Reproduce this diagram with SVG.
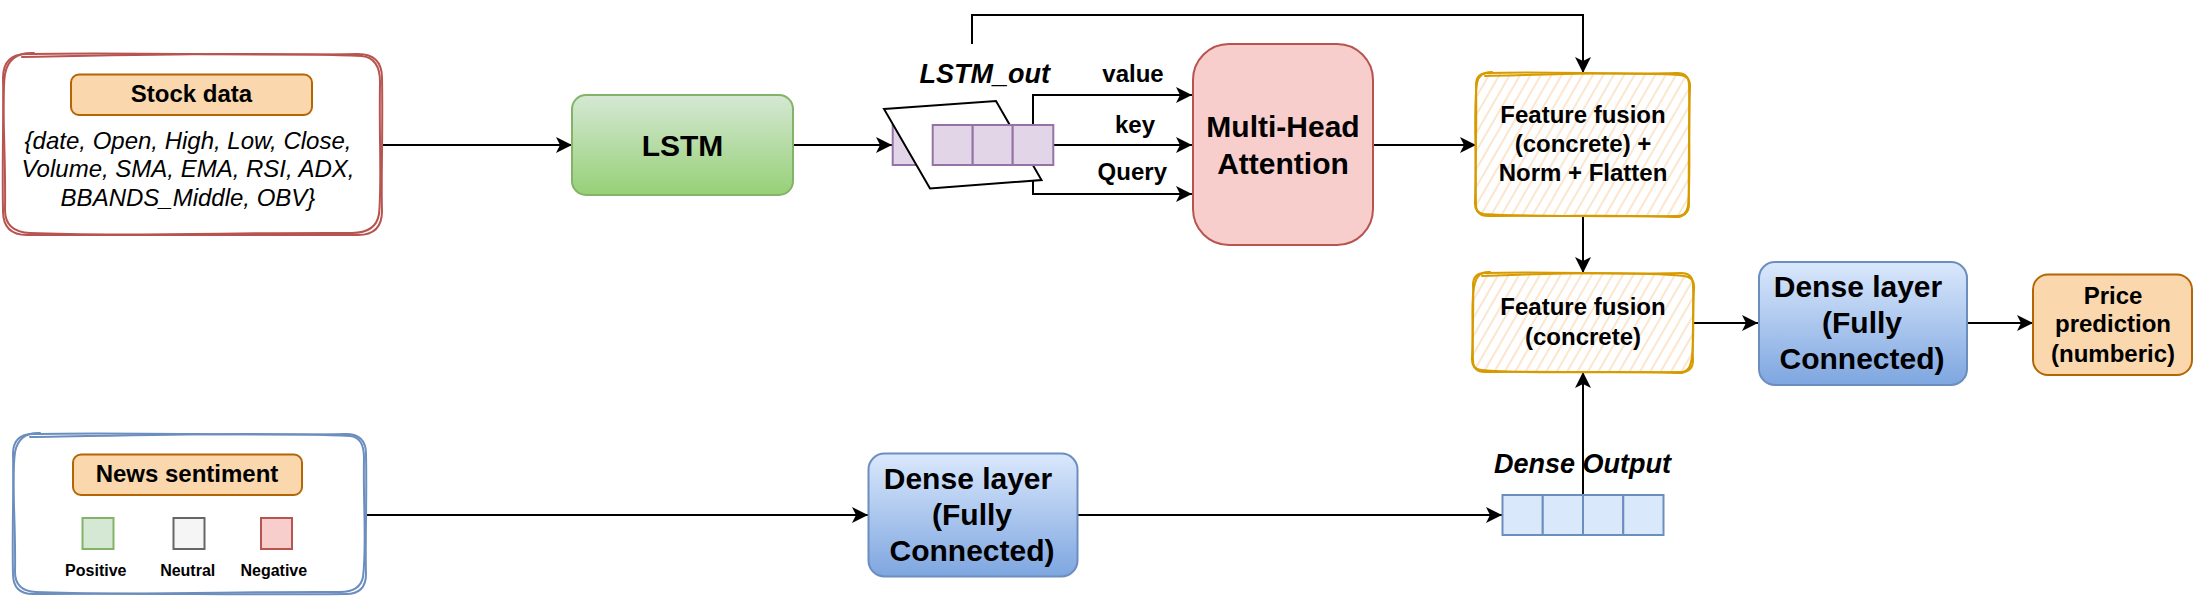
<svg xmlns="http://www.w3.org/2000/svg" width="2194" height="596" viewBox="0 0 2194 596">
<defs>
<style>
text{font-family:"Liberation Sans",Arial,Helvetica,sans-serif;fill:#000;text-anchor:middle}
.b24{font-size:24px;font-weight:bold}
.b30{font-size:30px;font-weight:bold}
.b16{font-size:16px;font-weight:bold}
.i24{font-size:24px;font-style:italic}
.bi27{font-size:27px;font-weight:bold;font-style:italic}
.conn{fill:none;stroke:#000;stroke-width:2;marker-end:url(#arr)}
.line{fill:none;stroke:#000;stroke-width:2}
.lbl{fill:#fad7ac;stroke:#b46504;stroke-width:2}
.sk{fill:none;stroke-width:2;stroke-linejoin:round;stroke-linecap:round}
.purple{fill:#e1d5e7;stroke:#9673a6;stroke-width:2}
.bluecell{fill:#dae8fc;stroke:#6c8ebf;stroke-width:2}
</style>
<marker id="arr" markerUnits="userSpaceOnUse" viewBox="0 0 16 16" refX="16" refY="8" markerWidth="16" markerHeight="16" orient="auto">
<path d="M16,8 L0,0 L4,8 L0,16 Z" fill="#000"/>
</marker>
<linearGradient id="gGreen" x1="0" y1="0" x2="0" y2="1">
<stop offset="0" stop-color="#d5e8d4"/><stop offset="1" stop-color="#97d077"/>
</linearGradient>
<linearGradient id="gBlue" x1="0" y1="0" x2="0" y2="1">
<stop offset="0" stop-color="#dae8fc"/><stop offset="1" stop-color="#7ea6e0"/>
</linearGradient>
<pattern id="hatch" patternUnits="userSpaceOnUse" width="9" height="9" patternTransform="rotate(30)">
<rect width="9" height="9" fill="#ffffff"/>
<line x1="4" y1="0" x2="4" y2="9" stroke="#fad9b5" stroke-width="1.3"/>
</pattern>
</defs>
<rect width="2194" height="596" fill="#ffffff"/>

<g id="connectors">
<path class="conn" d="M382,145 H572"/>
<path class="conn" d="M793,145 H892"/>
<path class="conn" d="M972,44 V15 H1583 V73"/>
<path class="conn" d="M1033,125 V95 H1192"/>
<path class="conn" d="M1053,145 H1192"/>
<path class="conn" d="M1033,165 V194 H1192"/>
<path class="conn" d="M1373,145 H1476"/>
<path class="conn" d="M1583,216 V273"/>
<path class="conn" d="M1693,323 H1758"/>
<path class="conn" d="M1967,323 H2033"/>
<path class="conn" d="M366,515 H868"/>
<path class="conn" d="M1078,515 H1502"/>
<path class="conn" d="M1583,495 V372"/>
</g>

<g id="stock-data">
<path d="M27,54 C130,52 260,56 358,54 Q382,54 382,78 C383,130 381,180 382,211 Q382,235 358,235 C260,236 130,234 27,235 Q3,235 3,211 C2,160 4,110 3,78 Q3,54 27,54 Z" fill="#ffffff" stroke="none"/>
<path class="sk" stroke="#b85450" d="M27,54 C130,52 260,56 358,54 Q382,54 382,78 C383,130 381,180 382,211 Q382,235 358,235 C260,236 130,234 27,235 Q3,235 3,211 C2,160 4,110 3,78 Q3,54 27,54 Z"/>
<path class="sk" stroke="#b85450" d="M22,57 C140,55 270,52 362,56 Q380,58 380,82 C379,140 382,185 379,214 Q376,233 352,233 C250,232 120,237 30,233 Q5,232 5,210 C6,150 1,100 5,74 Q9,52 34,53"/>
<rect class="lbl" x="71" y="74.5" width="241" height="40.5" rx="8"/>
<text class="b24" x="191.5" y="101.5">Stock data</text>
<text class="i24" x="188" y="149">{date, Open, High, Low, Close,</text>
<text class="i24" x="188" y="177">Volume, SMA, EMA, RSI, ADX,</text>
<text class="i24" x="188" y="205.5">BBANDS_Middle, OBV}</text>
</g>

<g id="lstm">
<rect x="572" y="95" width="221" height="100" rx="14" fill="url(#gGreen)" stroke="#82b366" stroke-width="2"/>
<text class="b30" x="682.5" y="156">LSTM</text>
</g>

<g id="lstm-out">
<rect class="purple" x="892.7" y="125" width="40" height="40"/>
<polygon points="884,109 996,101 1041.5,180 930,188.5" fill="#ffffff" stroke="#000" stroke-width="2"/>
<rect class="purple" x="932.7" y="125" width="40" height="40"/>
<rect class="purple" x="972.7" y="125" width="40" height="40"/>
<rect class="purple" x="1012.7" y="125" width="40.6" height="40"/>
<text class="bi27" x="984.7" y="83.3">LSTM_out</text>
</g>

<g id="edge-labels">
<text class="b24" x="1133" y="81.7">value</text>
<text class="b24" x="1135" y="132.7">key</text>
<text class="b24" x="1132.3" y="180">Query</text>
</g>

<g id="multi-head-attention">
<rect x="1193" y="44" width="180" height="201" rx="36" fill="#f8cecc" stroke="#b85450" stroke-width="2"/>
<text class="b30" x="1283" y="137.3">Multi-Head</text>
<text class="b30" x="1283" y="174">Attention</text>
</g>

<g id="feature-fusion-1">
<path d="M1488,73 C1550,71 1620,75 1677,73 Q1689,73 1689,85 C1690,120 1688,170 1689,204 Q1689,216 1677,216 C1610,217 1550,215 1488,216 Q1476,216 1476,204 C1475,160 1477,120 1476,85 Q1476,73 1488,73 Z" fill="url(#hatch)" stroke="none"/>
<path class="sk" stroke="#d79b00" d="M1488,73 C1550,71 1620,75 1677,73 Q1689,73 1689,85 C1690,120 1688,170 1689,204 Q1689,216 1677,216 C1610,217 1550,215 1488,216 Q1476,216 1476,204 C1475,160 1477,120 1476,85 Q1476,73 1488,73 Z"/>
<path class="sk" stroke="#d79b00" d="M1485,76 C1560,74 1630,72 1680,75 Q1691,76 1690,88 C1688,130 1691,175 1688,206 Q1686,218 1674,217 C1600,214 1540,218 1484,214 Q1474,213 1475,201 C1477,150 1473,110 1477,83 Q1479,72 1492,72"/>
<text class="b24" x="1583" y="123.3">Feature fusion</text>
<text class="b24" x="1583" y="151.7">(concrete) +</text>
<text class="b24" x="1583" y="180.7">Norm + Flatten</text>
</g>

<g id="feature-fusion-2">
<path d="M1485,273 C1550,271 1620,275 1681,273 Q1693,273 1693,285 C1694,310 1692,340 1693,360 Q1693,372 1681,372 C1610,373 1550,371 1485,372 Q1473,372 1473,360 C1472,330 1474,305 1473,285 Q1473,273 1485,273 Z" fill="url(#hatch)" stroke="none"/>
<path class="sk" stroke="#d79b00" d="M1485,273 C1550,271 1620,275 1681,273 Q1693,273 1693,285 C1694,310 1692,340 1693,360 Q1693,372 1681,372 C1610,373 1550,371 1485,372 Q1473,372 1473,360 C1472,330 1474,305 1473,285 Q1473,273 1485,273 Z"/>
<path class="sk" stroke="#d79b00" d="M1482,276 C1560,273 1640,272 1684,276 Q1695,277 1694,289 C1692,320 1695,345 1691,362 Q1689,374 1677,373 C1600,370 1540,375 1481,370 Q1471,369 1472,357 C1474,320 1470,300 1475,283 Q1478,271 1490,272"/>
<text class="b24" x="1583" y="315">Feature fusion</text>
<text class="b24" x="1583" y="345">(concrete)</text>
</g>

<g id="dense-layer-top">
<rect x="1759" y="262" width="208" height="123" rx="16" fill="url(#gBlue)" stroke="#6c8ebf" stroke-width="2"/>
<text class="b30" x="1858" y="296.7">Dense layer</text>
<text class="b30" x="1862" y="333.3">(Fully</text>
<text class="b30" x="1862" y="369.3">Connected)</text>
</g>

<g id="price-prediction">
<rect class="lbl" x="2033" y="274.5" width="159" height="100.5" rx="15"/>
<text class="b24" x="2113" y="304">Price</text>
<text class="b24" x="2113" y="331.7">prediction</text>
<text class="b24" x="2113" y="361.7">(numberic)</text>
</g>

<g id="news-sentiment">
<path d="M33,434 C130,432 260,436 346,434 Q366,434 366,454 C367,500 365,540 366,574 Q366,594 346,594 C260,595 130,593 33,594 Q13,594 13,574 C12,530 14,490 13,454 Q13,434 33,434 Z" fill="#ffffff" stroke="none"/>
<path class="sk" stroke="#6c8ebf" d="M33,434 C130,432 260,436 346,434 Q366,434 366,454 C367,500 365,540 366,574 Q366,594 346,594 C260,595 130,593 33,594 Q13,594 13,574 C12,530 14,490 13,454 Q13,434 33,434 Z"/>
<path class="sk" stroke="#6c8ebf" d="M30,437 C140,435 270,432 350,436 Q364,437 364,458 C363,505 367,545 363,577 Q360,592 340,592 C250,591 120,596 36,592 Q15,591 15,572 C16,520 11,480 15,452 Q19,432 40,433"/>
<rect class="lbl" x="73" y="454.5" width="229" height="40.5" rx="8"/>
<text class="b24" x="187" y="481.7">News sentiment</text>
<rect x="82.5" y="518" width="31" height="31" fill="#d5e8d4" stroke="#82b366" stroke-width="2"/>
<rect x="173.5" y="518" width="31" height="31" fill="#f5f5f5" stroke="#666666" stroke-width="2"/>
<rect x="261" y="518" width="31" height="31" fill="#f8cecc" stroke="#b85450" stroke-width="2"/>
<text class="b16" x="95.8" y="575.7">Positive</text>
<text class="b16" x="187.7" y="575.7">Neutral</text>
<text class="b16" x="273.8" y="575.7">Negative</text>
</g>

<g id="dense-layer-bottom">
<rect x="868.5" y="453.5" width="209" height="123" rx="16" fill="url(#gBlue)" stroke="#6c8ebf" stroke-width="2"/>
<text class="b30" x="968" y="489.3">Dense layer</text>
<text class="b30" x="972" y="525">(Fully</text>
<text class="b30" x="972" y="560.7">Connected)</text>
</g>

<g id="dense-output">
<rect class="bluecell" x="1502.5" y="495" width="40.25" height="40"/>
<rect class="bluecell" x="1542.75" y="495" width="40.25" height="40"/>
<rect class="bluecell" x="1583" y="495" width="40.25" height="40"/>
<rect class="bluecell" x="1623.25" y="495" width="40.25" height="40"/>
<text class="bi27" x="1582.5" y="473.3">Dense Output</text>
</g>
</svg>
